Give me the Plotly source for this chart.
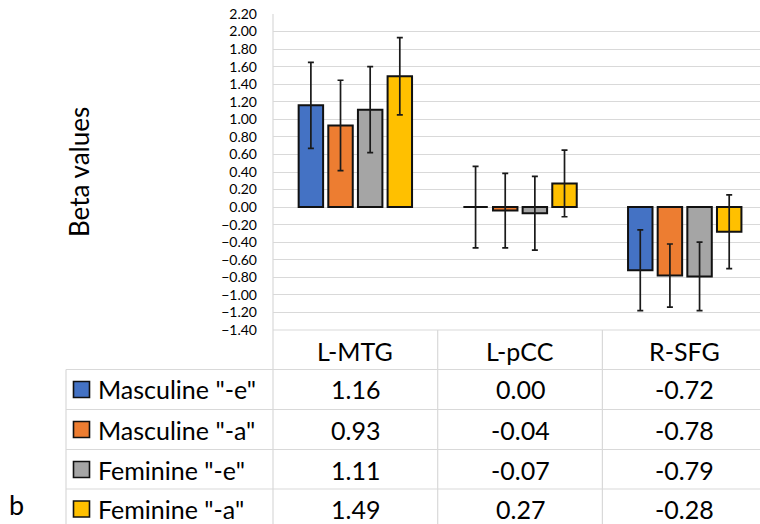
import plotly.graph_objects as go

categories = ["L-MTG", "L-pCC", "R-SFG"]
series_names = ['Masculine "-e"', 'Masculine "-a"', 'Feminine "-e"', 'Feminine "-a"']
masc_e = [1.16, 0.00, -0.72]
masc_a = [0.93, -0.04, -0.78]
fem_e = [1.11, -0.07, -0.79]
fem_a = [1.49, 0.27, -0.28]
err_masc_e = [0.49, 0.465, 0.46]
err_masc_a = [0.515, 0.425, 0.36]
err_fem_e = [0.49, 0.42, 0.39]
err_fem_a = [0.44, 0.38, 0.42]
colors = ["#4472C4", "#ED7D31", "#A5A5A5", "#FFC000"]
y_ticks = [round(-1.4 + 0.2 * i, 2) for i in range(19)]

values = [masc_e, masc_a, fem_e, fem_a]
errors = [err_masc_e, err_masc_a, err_fem_e, err_fem_a]

FONT = "Lato"
W, H = 760, 524
ML, MR, MT, MB = 273, 0, 14, 194
PW, PH = W - ML - MR, H - MT - MB


def px_x(px):
    return (px - ML) / PW


def px_y(py):
    return (H - MB - py) / PH


fig = go.Figure()
for name, vals, errs, col in zip(series_names, values, errors, colors):
    fig.add_trace(go.Bar(
        x=categories, y=vals, name=name,
        marker=dict(color=col, line=dict(color="#111111", width=2)),
        error_y=dict(type="data", array=errs, visible=True,
                     color="#1a1a1a", thickness=1.7, width=3),
    ))

grid = "#D9D9D9"
shapes = []
# table horizontal lines
for py, x0 in [(330, ML), (369.5, 66), (409.5, 66), (449.5, 66), (489, 66)]:
    shapes.append(dict(type="line", xref="paper", yref="paper",
                       x0=px_x(x0), x1=1, y0=px_y(py), y1=px_y(py),
                       line=dict(color=grid, width=1.2)))
# table vertical lines
shapes.append(dict(type="line", xref="paper", yref="paper",
                   x0=px_x(66), x1=px_x(66), y0=px_y(369.5), y1=px_y(530),
                   line=dict(color=grid, width=1.2)))
shapes.append(dict(type="line", xref="paper", yref="paper",
                   x0=0, x1=0, y0=1, y1=px_y(530),
                   line=dict(color=grid, width=1.2)))
for xb in [0.5, 1.5]:
    shapes.append(dict(type="line", xref="x", yref="paper",
                       x0=xb, x1=xb, y0=px_y(330), y1=px_y(530),
                       line=dict(color=grid, width=1.2)))

annotations = []
row_centers = [389.5, 429.5, 469.5, 509]
TS = 25
# header
for i, c in enumerate(categories):
    annotations.append(dict(x=i, xref="x", y=px_y(351), yref="paper",
                            text=c, showarrow=False, xanchor="center", yanchor="middle",
                            font=dict(family=FONT, size=TS, color="#000000")))
for r, (name, vals, col) in enumerate(zip(series_names, values, colors)):
    cy = row_centers[r]
    shapes.append(dict(type="rect", xref="paper", yref="paper",
                       x0=px_x(73.5), x1=px_x(89.5), y0=px_y(cy - 8), y1=px_y(cy + 8),
                       fillcolor=col, line=dict(color="#111111", width=1.6)))
    annotations.append(dict(x=px_x(96), xref="paper", y=px_y(cy), yref="paper",
                            text=name, showarrow=False, xanchor="left", yanchor="middle",
                            font=dict(family=FONT, size=TS, color="#000000")))
    for i, v in enumerate(vals):
        annotations.append(dict(x=i, xref="x", y=px_y(cy), yref="paper",
                                text=f"{v:.2f}", showarrow=False, xanchor="center",
                                yanchor="middle",
                                font=dict(family=FONT, size=TS, color="#000000")))

annotations.append(dict(x=px_x(79), xref="paper", y=px_y(172), yref="paper",
                        text="Beta values", textangle=-90, showarrow=False,
                        xanchor="center", yanchor="middle",
                        font=dict(family=FONT, size=26, color="#000000")))
annotations.append(dict(x=px_x(16), xref="paper", y=px_y(523), yref="paper",
                        text="b", showarrow=False, xanchor="center", yanchor="bottom",
                        font=dict(family=FONT, size=27, color="#000000")))

fig.update_layout(
    width=W, height=H,
    margin=dict(l=ML, r=MR, t=MT, b=MB, pad=0),
    plot_bgcolor="white", paper_bgcolor="white",
    barmode="group", bargap=0.28, bargroupgap=0.175,
    showlegend=False,
    shapes=shapes, annotations=annotations,
    xaxis=dict(range=[-0.5, 2.457], showticklabels=False, showgrid=False,
               zeroline=False, showline=False, fixedrange=True),
    yaxis=dict(range=[-1.4, 2.2], tickvals=y_ticks, tickformat=".2f",
               showgrid=True, gridcolor=grid, gridwidth=1.2,
               zeroline=True, zerolinecolor=grid, zerolinewidth=1.2,
               showline=False, ticks="", ticklabelstandoff=15,
               tickfont=dict(family=FONT, size=14, color="#000000")),
)

fig.write_html("out.html")
